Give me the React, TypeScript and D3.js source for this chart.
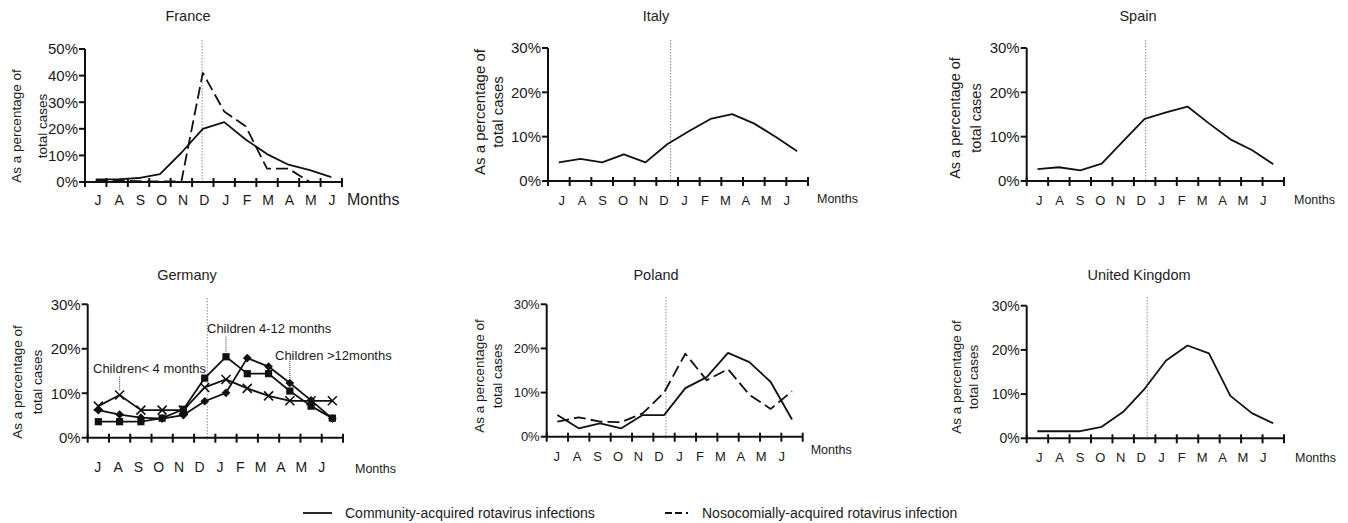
import React from 'react';
import * as d3 from 'd3';

// month labels (July -> June)
const months = ['J', 'A', 'S', 'O', 'N', 'D', 'J', 'F', 'M', 'A', 'M', 'J'];

// % of total cases per month
const franceCommunity = [1, 1, 1.5, 3, 11, 20, 22.5, 16, 10.5, 6.5, 4.5, 1.8];
const franceNosocomial = [0.6, 0.5, 0.3, 0.2, 0.2, 41, 26.5, 21, 5, 5, 0, 0];
const italyCommunity = [4.2, 5, 4.2, 6, 4.2, 8.3, 11.2, 14, 15.1, 13, 10, 6.7];
const spainCommunity = [2.7, 3.1, 2.4, 3.9, 9, 14, 15.5, 16.8, 13, 9.4, 7, 3.8];
const germanyUnder4 = [7.1, 9.6, 6.2, 6.2, 6.2, 11.3, 13.1, 11.1, 9.4, 8.3, 8.3, 8.3];
const germany4to12 = [3.6, 3.6, 3.6, 4.4, 6.4, 13.4, 18.2, 14.4, 14.4, 10.5, 7.1, 4.4];
const germanyOver12 = [6.2, 5.2, 4.5, 4.3, 5.1, 8.2, 10.1, 17.9, 16, 12.3, 8.4, 4.3];
const polandCommunity = [4.9, 1.9, 3, 1.9, 4.9, 4.9, 11, 13.5, 19, 16.9, 12.4, 3.9];
const polandNosocomial = [3.4, 4.4, 3.4, 3.3, 5.3, 10, 18.8, 12.8, 15.3, 9.5, 6.3, 10.3];
const ukCommunity = [1.6, 1.6, 1.6, 2.6, 6, 11.2, 17.6, 21, 19.2, 9.6, 5.7, 3.4];

const legendLabels = ['Community-acquired rotavirus infections', 'Nosocomially-acquired rotavirus infection'];

const FONT = '"Liberation Sans", Arial, Helvetica, sans-serif';
const DASH = '12,5';

type Series = { values: number[]; dash?: string; marker?: 'square' | 'diamond' | 'cross' };
type Note = { text: string; series: number; month: number; tx: number; ty: number; top: number };

const panels = [
  {
    title: 'France', tx: 188, ty: 21, yMax: 50,
    x0: 85, x1: 342, yTop: 49, yBottom: 182, divider: 5.47, divTop: 40,
    labelRange: [98, 332], labelY: 205, labelFont: 14,
    tickFont: 15, months: { x: 347, y: 205, size: 16 },
    yTitle: { b: [21, 47], cy: 126, size: 13.5 },
    series: [{ values: franceCommunity }, { values: franceNosocomial, dash: DASH }] as Series[],
    notes: [] as Note[],
  },
  {
    title: 'Italy', tx: 656, ty: 21, yMax: 30,
    x0: 548, x1: 808, yTop: 48, yBottom: 181, divider: 5.66, divTop: 40,
    labelRange: [561.7, 786.7], labelY: 205, labelFont: 13,
    tickFont: 15, months: { x: 817, y: 203, size: 12.5 },
    yTitle: { b: [485, 503], cy: 112, size: 15 },
    series: [{ values: italyCommunity }] as Series[],
    notes: [] as Note[],
  },
  {
    title: 'Spain', tx: 1138, ty: 21, yMax: 30,
    x0: 1026.7, x1: 1284, yTop: 48, yBottom: 181, divider: 5.55, divTop: 40,
    labelRange: [1039.3, 1263.3], labelY: 205, labelFont: 13,
    tickFont: 15, months: { x: 1294, y: 204, size: 12.5 },
    yTitle: { b: [960, 981], cy: 118, size: 14.5 },
    series: [{ values: spainCommunity }] as Series[],
    notes: [] as Note[],
  },
  {
    title: 'Germany', tx: 187, ty: 280, yMax: 30,
    x0: 87.7, x1: 343, yTop: 304.3, yBottom: 437.7, divider: 5.62, divTop: 298,
    labelRange: [97.7, 321.7], labelY: 472, labelFont: 14,
    tickFont: 15, months: { x: 355, y: 473, size: 12.5 },
    yTitle: { b: [22, 42], cy: 382, size: 13.5 },
    series: [
      { values: germanyUnder4, marker: 'cross' },
      { values: germany4to12, marker: 'square' },
      { values: germanyOver12, marker: 'diamond' },
    ] as Series[],
    notes: [
      { text: 'Children< 4 months', series: 0, month: 1, tx: 93, ty: 373, top: 376.7 },
      { text: 'Children 4-12 months', series: 1, month: 6, tx: 207, ty: 333, top: 336.7 },
      { text: 'Children >12months', series: 2, month: 9, tx: 275, ty: 360, top: 361 },
    ] as Note[],
  },
  {
    title: 'Poland', tx: 656, ty: 280, yMax: 30,
    x0: 546.7, x1: 802.7, yTop: 304.3, yBottom: 436.7, divider: 5.59, divTop: 297,
    labelRange: [556.7, 781.7], labelY: 461, labelFont: 13,
    tickFont: 13, months: { x: 810.7, y: 454, size: 12.5 },
    yTitle: { b: [484, 502], cy: 376, size: 13.5 },
    series: [{ values: polandCommunity }, { values: polandNosocomial, dash: DASH }] as Series[],
    notes: [] as Note[],
  },
  {
    title: 'United Kingdom', tx: 1139, ty: 280, yMax: 30,
    x0: 1026.7, x1: 1284, yTop: 305.7, yBottom: 438.3, divider: 5.62, divTop: 297,
    labelRange: [1039.3, 1263.3], labelY: 462, labelFont: 13,
    tickFont: 14, months: { x: 1295, y: 462, size: 12.5 },
    yTitle: { b: [961, 978], cy: 377, size: 13.5 },
    series: [{ values: ukCommunity }] as Series[],
    notes: [] as Note[],
  },
];

type PanelCfg = (typeof panels)[number];

function Panel({ p }: { p: PanelCfg }) {
  const x = d3.scaleLinear().domain([0, 12]).range([p.x0, p.x1]);
  const y = d3.scaleLinear().domain([0, p.yMax]).range([p.yBottom, p.yTop]);
  const lab = d3.scalePoint<number>().domain(d3.range(12)).range(p.labelRange as [number, number]);
  const line = d3.line<number>().x((_, i) => x(i + 0.5)).y((d) => y(d));
  const yTicks = d3.range(0, p.yMax + 1, 10);
  const square = d3.symbol().type(d3.symbolSquare).size(52)();
  const diamond = d3.symbol().type(d3.symbolSquare).size(38)();

  return (
    <g fontFamily={FONT} fill="#1a1a1a">
      <text x={p.tx} y={p.ty} textAnchor="middle" fontSize={14.5} fill="#222">{p.title}</text>

      {/* y title */}
      {['As a percentage of', 'total cases'].map((t, i) => (
        <text key={t} transform={`translate(${p.yTitle.b[i]},${p.yTitle.cy}) rotate(-90)`}
          textAnchor="middle" fontSize={p.yTitle.size}>{t}</text>
      ))}

      {/* divider */}
      <line x1={x(p.divider)} x2={x(p.divider)} y1={p.divTop} y2={p.yBottom + 2}
        stroke="#8a8a8a" strokeWidth={1} strokeDasharray="1.5,1.5" />

      {/* y axis */}
      <line x1={p.x0} x2={p.x0} y1={p.yTop} y2={p.yBottom} stroke="#111" strokeWidth={2} />
      {yTicks.map((t) => (
        <g key={t}>
          <line x1={p.x0 - 6} x2={p.x0} y1={y(t)} y2={y(t)} stroke="#111" strokeWidth={2} />
          <text x={p.x0 - 7} y={y(t)} dy="0.36em" textAnchor="end" fontSize={p.tickFont}>{`${t}%`}</text>
        </g>
      ))}

      {/* x axis */}
      <line x1={p.x0} x2={p.x1} y1={p.yBottom} y2={p.yBottom} stroke="#111" strokeWidth={2} />
      {d3.range(13).map((i) => (
        <line key={i} x1={x(i)} x2={x(i)} y1={p.yBottom - 4} y2={p.yBottom + 5} stroke="#111" strokeWidth={2} />
      ))}
      {months.map((m, i) => (
        <text key={i} x={lab(i)} y={p.labelY} textAnchor="middle" fontSize={p.labelFont}>{m}</text>
      ))}
      <text x={p.months.x} y={p.months.y} fontSize={p.months.size}>Months</text>

      {/* series */}
      {p.series.map((s, si) => (
        <g key={si}>
          <path d={line(s.values) ?? ''} fill="none" stroke="#111" strokeWidth={1.8}
            strokeDasharray={s.dash} strokeLinejoin="round" />
          {s.marker && s.values.map((v, i) => {
            const cx = x(i + 0.5);
            const cy = y(v);
            if (s.marker === 'cross') {
              return <path key={i} d={`M${cx - 4.5},${cy - 4.5}L${cx + 4.5},${cy + 4.5}M${cx - 4.5},${cy + 4.5}L${cx + 4.5},${cy - 4.5}`}
                stroke="#111" strokeWidth={1.6} fill="none" />;
            }
            return <path key={i} d={s.marker === 'square' ? square! : diamond!}
              transform={`translate(${cx},${cy})${s.marker === 'diamond' ? ' rotate(45)' : ''}`} fill="#111" />;
          })}
        </g>
      ))}

      {/* annotations */}
      {p.notes.map((n) => {
        const px = x(n.month + 0.5);
        const py = y(p.series[n.series].values[n.month]);
        return (
          <g key={n.text}>
            <text x={n.tx} y={n.ty} fontSize={13}>{n.text}</text>
            <line x1={px} x2={px} y1={n.top} y2={py - 4} stroke="#333" strokeWidth={1} strokeDasharray="1,1" />
          </g>
        );
      })}
    </g>
  );
}

export default function App() {
  return (
    <svg width={1348} height={523} style={{ position: 'absolute', left: 0, top: 0, background: '#fff' }}>
      {panels.map((p) => <Panel key={p.title} p={p} />)}
      <g fontFamily={FONT} fontSize={14} fill="#1a1a1a">
        <line x1={303} x2={332} y1={513} y2={513} stroke="#111" strokeWidth={1.8} />
        <text x={345} y={518}>{legendLabels[0]}</text>
        <line x1={665} x2={692} y1={513} y2={513} stroke="#111" strokeWidth={1.8} strokeDasharray="7,3,7,4,2,20" />
        <text x={702} y={518}>{legendLabels[1]}</text>
      </g>
    </svg>
  );
}
